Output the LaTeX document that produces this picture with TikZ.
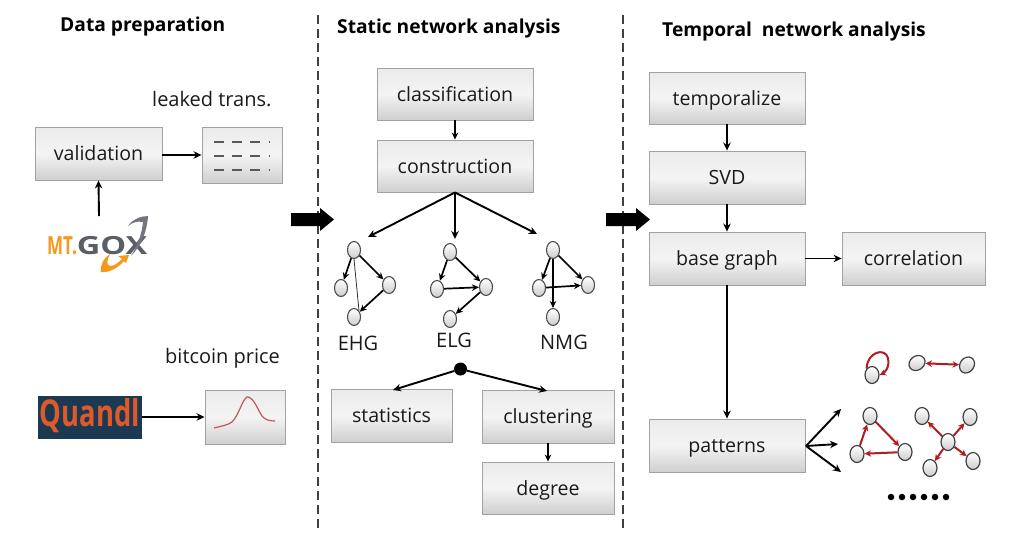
\documentclass[tikz,border=0pt]{standalone}
\usepackage{fontspec}
\setmainfont{Open Sans}
\usetikzlibrary{arrows.meta,shapes.geometric}
\definecolor{boxline}{HTML}{A2A2A2}
\definecolor{boxtop}{HTML}{EBEBEB}
\definecolor{boxmid}{HTML}{F4F4F4}
\definecolor{boxbot}{HTML}{CFCFCF}
\definecolor{redge}{HTML}{B01C22}
\definecolor{goxorange}{HTML}{F39A1E}
\definecolor{goxgrey}{HTML}{5A5F66}
\definecolor{quandlbg}{HTML}{1B3A52}
\definecolor{quandlfg}{HTML}{E0592A}
\definecolor{txt}{HTML}{1A1A1A}
\tikzset{
  box/.style={draw=boxline,line width=.9pt,rectangle,top color=boxtop,bottom color=boxbot,middle color=boxmid,
     text=txt,font=\fontsize{19.6}{22}\selectfont,inner sep=0pt,anchor=center,text height=18pt,text depth=4pt},
  head/.style={font=\bfseries\fontsize{19.2}{22}\selectfont,inner sep=0pt,text=black},
  lab/.style={font=\fontsize{20}{22}\selectfont,inner sep=0pt,text=txt},
  conn/.style={-{Stealth[length=8pt,width=7.5pt]},line width=1.9pt,black},
  thinconn/.style={-{Stealth[length=7pt,width=6.5pt]},line width=1.7pt,black},
  vtx/.style={ellipse,draw=black!70,line width=1.1pt,top color=white,bottom color=black!20,
     minimum width=13pt,minimum height=17pt,inner sep=0pt},
  rvtx/.style={vtx,draw=black!75,line width=1.2pt,minimum width=14pt,minimum height=17pt},
  gedge/.style={-{Stealth[length=7pt,width=6.5pt]},line width=1.7pt,black},
  redg/.style={-{Stealth[length=6.5pt,width=6.5pt]},line width=2pt,redge},
  redboth/.style={{Stealth[length=6.5pt,width=6.5pt]}-{Stealth[length=6.5pt,width=6.5pt]},line width=2pt,redge},
  sep/.style={dashed,dash pattern=on 9pt off 5pt,line width=1.7pt,black!75},
  bigarrow/.style={fill=black,draw=none},
  dotn/.style={circle,fill=black,inner sep=0pt,minimum size=6.5pt},
}
\begin{document}
\begin{tikzpicture}[x=1pt,y=-1pt]
\useasboundingbox[fill=white] (0,0) rectangle (1024,552);
% separators
\coordinate (s1a) at (318,15); \coordinate (s1b) at (318,528);
\coordinate (s2a) at (623,15); \coordinate (s2b) at (623,528);
\draw[sep] (s1a) -- (s1b);
\draw[sep] (s2a) -- (s2b);
% headings
\node[head,anchor=west] (h1) at (60,27) {Data preparation};
\node[head,anchor=west] (h2) at (337,29) {Static network analysis};
\node[head,anchor=west] (h3) at (662,32) {Temporal\ \ network analysis};
% column 1
\node[lab,anchor=west] (leak) at (152,99) {leaked trans.};
\node[box,minimum width=127pt,minimum height=53pt] (val) at (98.5,153.5) {validation};
\node[box,minimum width=80pt,minimum height=56pt] (tbl) at (242,155) {};
\foreach \yy in {142,156,170}{
  \foreach \xa/\xb in {214/224,232/242,250/260,268.5/270}{
    \draw[line width=2pt,black!65] (\xa,\yy) -- (\xb,\yy);
  }
}
\node[inner sep=0pt,anchor=west,font=\bfseries\fontsize{25}{28}\selectfont] (gox) at (47,246)
   {\textcolor{goxorange}{\scalebox{0.68}[1]{MT.}}\textcolor{goxgrey}{\scalebox{1.3}[1]{GOX}}};
\coordinate (goxtop) at (99,216);
\fill[goxgrey!85] (148,216) .. controls (147,232) and (141,246) .. (131,256)
   .. controls (139,243) and (142,232) .. (143,222) .. controls (138,221) and (133,222) .. (128,226)
   .. controls (133,219) and (141,216) .. (148,216) -- cycle;
\fill[goxorange] (101,272) .. controls (100,264) and (104,258) .. (110,254)
   .. controls (107,260) and (106,265) .. (110,266) .. controls (115,266) and (119,262) .. (122,259)
   -- (118,256) -- (129,255) -- (126,263) -- (124,261)
   .. controls (118,268) and (109,273) .. (101,272) -- cycle;
\draw[conn] (goxtop) -- (val.south);
\draw[conn] (val.east |- tbl.west) -- (tbl.west);
\node[lab,anchor=west] (bit) at (165,358) {bitcoin price};
\node[rectangle,fill=quandlbg,minimum width=104pt,minimum height=43pt,inner sep=0pt] (qbg) at (90,417) {};
\node[inner sep=0pt,text=quandlfg,font=\bfseries\fontsize{37}{40}\selectfont] (qtxt) at (90,416) {\scalebox{0.74}[1]{Quandl}};
\node[box,minimum width=80pt,minimum height=54pt] (price) at (245,417) {};
\draw[line width=1.2pt,redge!75] (214,428) .. controls (222,426) and (228,425) .. (232,422)
   .. controls (239,415) and (242,400) .. (247,397) .. controls (253,396) and (258,410) .. (262,416)
   .. controls (265,420) and (270,421) .. (275,421);
\draw[conn] (qbg.east) -- (price.west);
% big arrows
\fill[bigarrow] (291,213) -- (320,213) -- (320,208) -- (334,219.5) -- (320,231) -- (320,226) -- (291,226) -- cycle;
\fill[bigarrow] (606,213) -- (636,213) -- (636,208) -- (650,219.5) -- (636,231) -- (636,226) -- (606,226) -- cycle;
% column 2
\node[box,minimum width=156pt,minimum height=52pt] (cls) at (455,94) {classification};
\node[box,minimum width=156pt,minimum height=52pt] (con) at (455,166) {construction};
\draw[thinconn] (cls) -- (con);
\coordinate (tehg) at (368,237);
\coordinate (telg) at (455,239);
\coordinate (tnmg) at (537,234);
\draw[conn] (con.south) -- (tehg);
\draw[conn] (con.south) -- (telg);
\draw[conn] (con.south) -- (tnmg);
% EHG
\node[vtx] (e1) at (354,250) {};
\node[vtx] (e2) at (341,288) {};
\node[vtx] (e3) at (389,285) {};
\node[vtx] (e4) at (354,317) {};
\draw[gedge] (e1) -- (e2);
\draw[gedge] (e1) -- (e3);
\draw[gedge] (e3) -- (e4);
\draw[line width=.8pt,black!80] (e1.south) -- (e4.north east);
\node[lab] (lehg) at (358,343) {EHG};
% ELG
\node[vtx] (l1) at (450,252) {};
\node[vtx] (l2) at (437,289) {};
\node[vtx] (l3) at (486,287) {};
\node[vtx] (l4) at (450,319) {};
\draw[gedge] (l1) -- (l2);
\draw[gedge] (l1) -- (l3);
\draw[gedge] (l2) -- (l3);
\draw[gedge] (l3) -- (l4);
\node[lab] (lelg) at (454,340) {ELG};
% NMG
\node[vtx] (n1) at (553,250) {};
\node[vtx] (n2) at (539,288) {};
\node[vtx] (n3) at (588,285) {};
\node[vtx] (n4) at (553,317) {};
\draw[gedge] (n1) -- (n2);
\draw[gedge] (n1) -- (n3);
\draw[gedge] (n2) -- (n3);
\draw[gedge] (n1) -- (n4);
\node[lab] (lnmg) at (564,342) {NMG};
% lower
\node[circle,fill=black,inner sep=0pt,minimum size=13pt] (hub) at (460.5,369) {};
\node[box,minimum width=121pt,minimum height=53pt] (stat) at (391.5,415.5) {statistics};
\node[box,minimum width=132pt,minimum height=53pt] (clu) at (548,416.5) {clustering};
\node[box,minimum width=132pt,minimum height=52pt] (deg) at (548,488) {degree};
\coordinate (tstat) at (393,390);
\coordinate (tclu) at (547,391);
\draw[conn] (hub) -- (tstat);
\draw[conn] (hub) -- (tclu);
\draw[thinconn] (clu) -- (deg);
% column 3
\node[box,minimum width=156pt,minimum height=52pt] (tem) at (727,98) {temporalize};
\node[box,minimum width=156pt,minimum height=53pt] (svd) at (727,177.5) {SVD};
\node[box,minimum width=156pt,minimum height=53pt] (base) at (727,258.5) {base graph};
\node[box,minimum width=143pt,minimum height=53pt] (cor) at (913.5,258.5) {correlation};
\node[box,minimum width=156pt,minimum height=53pt] (pat) at (727,445.5) {patterns};
\draw[conn] (tem) -- (svd);
\draw[conn] (svd) -- (base);
\draw[conn] (base) -- (cor);
\draw[conn] (base) -- (pat);
\coordinate (p1) at (841,409);
\coordinate (p2) at (838,444);
\coordinate (p3) at (841,472);
\coordinate (pf) at (806,446);
\draw[conn] (pf) -- (p1);
\draw[conn] (pf) -- (p2);
\draw[conn] (pf) -- (p3);
% patterns
\node[rvtx] (r0) at (872,375) {};
\draw[redg] (r0.north west) .. controls (867,352) and (885,347) .. (888,358) .. controls (890,368) and (884,373) .. (r0.east);
\node[rvtx,rotate=-55] (a1) at (917,363) {};
\node[rvtx,rotate=-35] (a2) at (967,365) {};
\draw[redboth] (a1) -- (a2);
\node[rvtx] (t1) at (870,416) {};
\node[rvtx] (t2) at (857,454) {};
\node[rvtx] (t3) at (905,452) {};
\draw[redg] (t2) -- (t1);
\draw[redg] (t1) -- (t3);
\draw[redg] (t3) -- (t2);
\node[rvtx] (c0) at (948,442) {};
\node[rvtx] (c1) at (922,416) {};
\node[rvtx] (c2) at (970,417) {};
\node[rvtx] (c3) at (973,461) {};
\node[rvtx] (c4) at (930,468) {};
\draw[redg] (c0) -- (c1);
\draw[redg] (c0) -- (c2);
\draw[redg] (c0) -- (c3);
\draw[redg] (c0) -- (c4);
\foreach \i/\xx in {1/891,2/902,3/913,4/924,5/935,6/946}{
  \node[dotn] (dot\i) at (\xx,497) {};
}
\end{tikzpicture}
\end{document}
